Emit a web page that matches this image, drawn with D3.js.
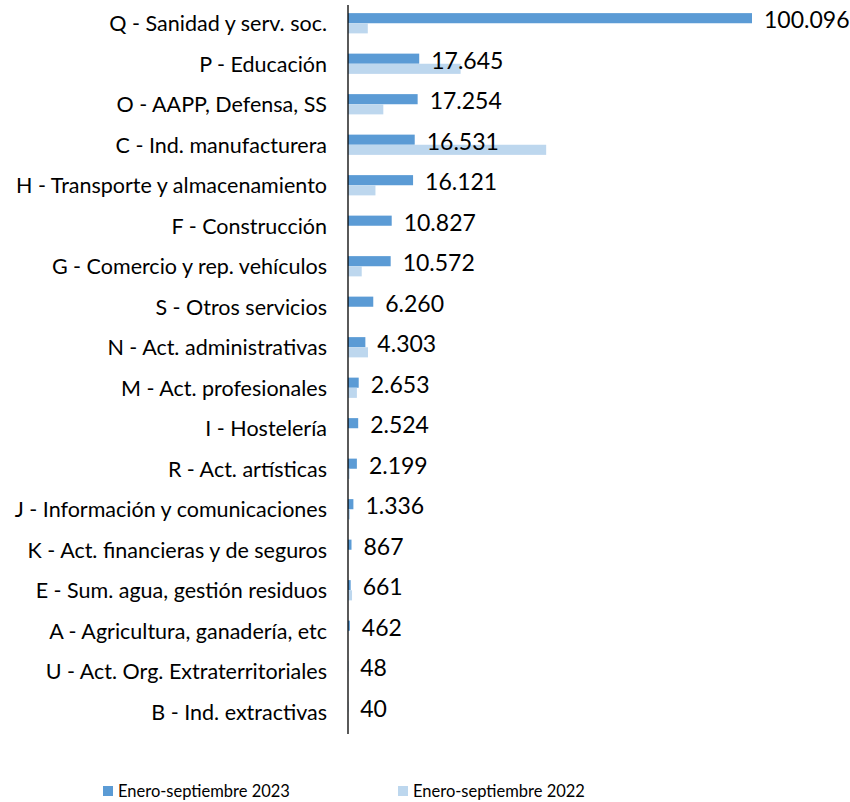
<!DOCTYPE html>
<html>
<head>
<meta charset="utf-8">
<script src="https://cdn.jsdelivr.net/npm/d3@7"></script>
<style>
  body { margin: 0; background: #fff; }
  text { font-family: Lato, "Open Sans", sans-serif; fill: #000; }
</style>
</head>
<body>
<div id="chart"></div>
<script>
// sectors, top to bottom
const categories = [
  'Q - Sanidad y serv. soc.', 'P - Educación', 'O - AAPP, Defensa, SS',
  'C - Ind. manufacturera', 'H - Transporte y almacenamiento', 'F - Construcción',
  'G - Comercio y rep. vehículos', 'S - Otros servicios', 'N - Act. administrativas',
  'M - Act. profesionales', 'I - Hostelería', 'R - Act. artísticas',
  'J - Información y comunicaciones', 'K - Act. financieras y de seguros',
  'E - Sum. agua, gestión residuos', 'A - Agricultura, ganadería, etc',
  'U - Act. Org. Extraterritoriales', 'B - Ind. extractivas'
];
const values2023 = [100096, 17645, 17254, 16531, 16121, 10827, 10572, 6260, 4303,
  2653, 2524, 2199, 1336, 867, 661, 462, 48, 40];
// 2022 (no labels in the original)
const values2022 = [4900, 27900, 8750, 49100, 6800, 0, 3400, 0, 4950,
  2200, 0, 400, 500, 0, 1000, 0, 0, 0];
const seriesNames = ['Enero-septiembre 2023', 'Enero-septiembre 2022'];
const colors = ['#5B9BD5', '#BDD7EE'];

const width = 850, height = 802;
const margin = {left: 348, top: 3, bottom: 70};

const svg = d3.select('#chart').append('svg')
  .attr('width', width).attr('height', height);

const x = d3.scaleLinear().domain([0, 100096]).range([margin.left, 752]);
const y = d3.scaleBand().domain(categories)
  .range([margin.top, height - margin.bottom]).paddingInner(0.5).paddingOuter(0.25);
const sub = d3.scaleBand().domain([0, 1]).range([0, y.bandwidth()]);

const rows = categories.map((c, i) => ({c, v: [values2023[i], values2022[i]]}));

const g = svg.append('g');
const row = g.selectAll('g.row').data(rows).join('g')
  .attr('class', 'row')
  .attr('transform', d => `translate(0,${y(d.c)})`);

row.selectAll('rect').data(d => d.v).join('rect')
  .attr('x', x(0))
  .attr('y', (d, i) => sub(i))
  .attr('width', d => x(d) - x(0))
  .attr('height', sub.bandwidth())
  .attr('fill', (d, i) => colors[i]);

// value labels (2023 only)
row.append('text')
  .attr('x', d => x(d.v[0]) + 12)
  .attr('y', sub(0) + sub.bandwidth() / 2 + 1)
  .attr('dominant-baseline', 'central')
  .style('font-size', '23px')
  .text(d => d3.format(',')(d.v[0]).replace(/,/g, '.'));

// category axis
const yAxis = g.append('g')
  .attr('transform', `translate(${x(0)},0)`)
  .call(d3.axisLeft(y).tickSize(0).tickPadding(21));
yAxis.select('.domain').attr('stroke', '#000').attr('stroke-width', 1.3)
  .attr('d', `M0,${margin.top + 2}V${height - margin.bottom + 2}`);
yAxis.selectAll('.tick text')
  .attr('dy', null)
  .attr('y', 0)
  .attr('dominant-baseline', 'central')
  .style('font-size', '21.5px')
  .style('font-family', 'Lato, "Open Sans", sans-serif');

// legend
const legend = svg.append('g').selectAll('g').data(seriesNames).join('g')
  .attr('transform', (d, i) => `translate(${103 + i * 295},786)`);
legend.append('rect').attr('width', 10).attr('height', 10)
  .attr('fill', (d, i) => colors[i]);
legend.append('text').attr('x', 15).attr('y', 5)
  .attr('dominant-baseline', 'central')
  .style('font-size', '16.5px')
  .text(d => d);
</script>
</body>
</html>
